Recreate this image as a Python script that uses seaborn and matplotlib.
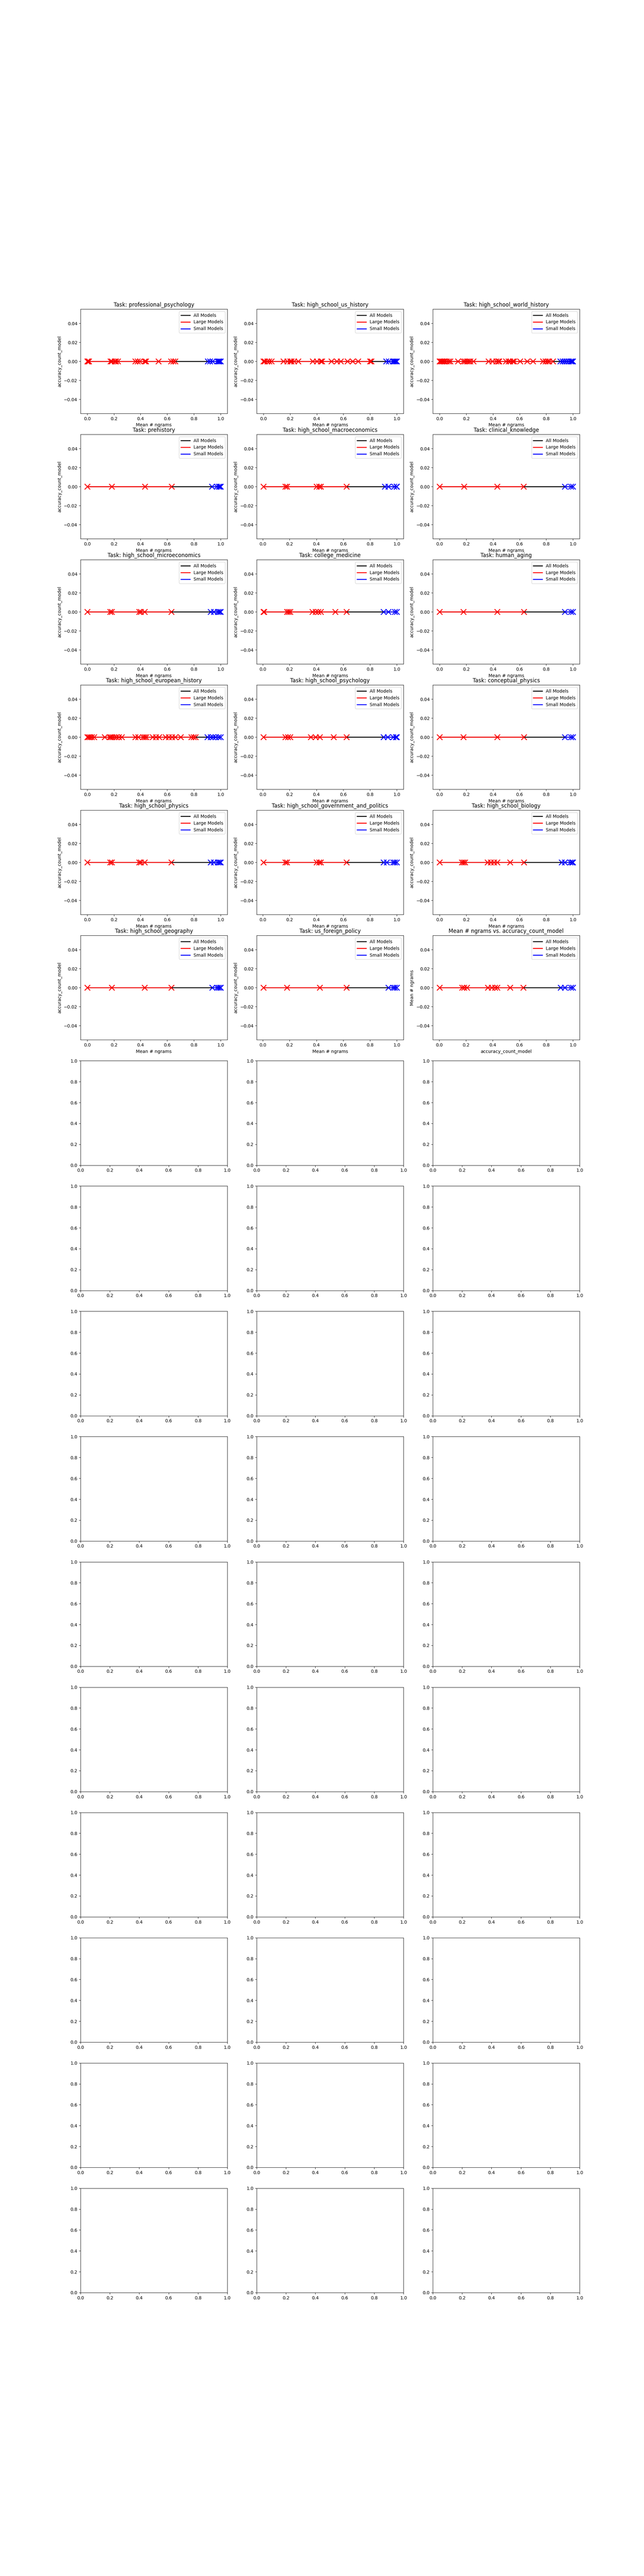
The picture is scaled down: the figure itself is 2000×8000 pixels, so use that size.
#!/usr/bin/env python3
"""
Task-wise accuracy_count_model vs. mean # ngrams (all / large / small models)
"""

import matplotlib
matplotlib.use('Agg')
import matplotlib.pyplot as plt
import seaborn as sns

# ---- data ----
titles = [
    'Task: professional_psychology', 'Task: high_school_us_history', 'Task: high_school_world_history',
    'Task: prehistory', 'Task: high_school_macroeconomics', 'Task: clinical_knowledge',
    'Task: high_school_microeconomics', 'Task: college_medicine', 'Task: human_aging',
    'Task: high_school_european_history', 'Task: high_school_psychology', 'Task: conceptual_physics',
    'Task: high_school_physics', 'Task: high_school_government_and_politics', 'Task: high_school_biology',
    'Task: high_school_geography', 'Task: us_foreign_policy', 'Mean # ngrams vs. accuracy_count_model',
]

# mean # ngrams (normalised) for the large models of each panel
large_ngrams = [
    [0.0, 0.005, 0.012, 0.175, 0.185, 0.205, 0.215, 0.23, 0.36, 0.378, 0.395, 0.43, 0.44, 0.533, 0.628, 0.645, 0.66],
    [0.0, 0.01, 0.03, 0.045, 0.06, 0.15, 0.18, 0.2, 0.21, 0.23, 0.26, 0.37, 0.4, 0.43, 0.44,
     0.51, 0.55, 0.58, 0.63, 0.67, 0.71, 0.8, 0.81],
    [0.0, 0.003, 0.012, 0.021, 0.031, 0.04, 0.054, 0.068, 0.081, 0.139, 0.179, 0.192, 0.206, 0.218,
     0.229, 0.253, 0.368, 0.396, 0.426, 0.44, 0.447, 0.498, 0.516, 0.53, 0.549, 0.558, 0.604,
     0.657, 0.699, 0.775, 0.794, 0.808, 0.821, 0.849],
    [0.0, 0.185, 0.433, 0.632],
    [0.004, 0.167, 0.179, 0.4, 0.42, 0.432, 0.624],
    [0.0, 0.184, 0.432, 0.63],
    [0.0, 0.171, 0.183, 0.388, 0.402, 0.431, 0.631],
    [0.004, 0.01, 0.179, 0.191, 0.203, 0.371, 0.395, 0.412, 0.432, 0.54, 0.624],
    [0.0, 0.18, 0.433, 0.632],
    [0.0, 0.01, 0.022, 0.034, 0.051, 0.13, 0.166, 0.178, 0.19, 0.203, 0.219, 0.238, 0.258,
     0.359, 0.383, 0.419, 0.431, 0.443, 0.491, 0.515, 0.539, 0.587, 0.611, 0.636, 0.66, 0.7,
     0.78, 0.797, 0.811],
    [0.004, 0.167, 0.186, 0.203, 0.359, 0.395, 0.426, 0.528, 0.624],
    [0.0, 0.18, 0.433, 0.632],
    [0.0, 0.171, 0.183, 0.388, 0.402, 0.431, 0.631],
    [0.004, 0.167, 0.179, 0.4, 0.42, 0.432, 0.624],
    [0.0, 0.168, 0.18, 0.192, 0.36, 0.384, 0.408, 0.432, 0.528, 0.632],
    [0.0, 0.183, 0.431, 0.631],
    [0.004, 0.179, 0.426, 0.624],
    [0.003, 0.172, 0.187, 0.209, 0.365, 0.393, 0.417, 0.433, 0.531, 0.629],
]

# mean # ngrams (normalised) for the small models of each panel
small_ngrams = [
    [0.903, 0.92, 0.94, 0.975, 0.985, 0.99, 1.0],
    [0.92, 0.94, 0.97, 0.98, 0.99, 1.0],
    [0.905, 0.923, 0.937, 0.951, 0.969, 0.983, 0.993, 1.0],
    [0.935, 0.97, 0.985, 0.995, 1.0],
    [0.91, 0.936, 0.98, 0.997, 1.0],
    [0.94, 0.985, 1.0],
    [0.924, 0.948, 0.979, 0.991, 1.0],
    [0.9, 0.937, 0.985, 1.0],
    [0.94, 0.985, 1.0],
    [0.9, 0.924, 0.941, 0.96, 0.984, 1.0],
    [0.9, 0.932, 0.973, 0.993, 1.0],
    [0.94, 0.985, 1.0],
    [0.924, 0.948, 0.979, 0.991, 1.0],
    [0.9, 0.925, 0.973, 0.985, 1.0],
    [0.914, 0.938, 0.981, 0.993, 1.0],
    [0.937, 0.972, 0.984, 0.996, 1.0],
    [0.937, 0.973, 0.985, 1.0],
    [0.908, 0.939, 0.985, 1.0],
]

# accuracy_count_model is zero for every model in every panel
accuracy_value = 0.0

n_rows, n_cols = 16, 3


def draw_panel(ax, title, large_x, small_x, xlabel, ylabel):
    """하나의 패널 그리기"""
    all_x = sorted(large_x + small_x)
    sns.lineplot(x=all_x, y=[accuracy_value] * len(all_x), ax=ax, color='black',
                 estimator=None, errorbar=None, linewidth=2, label='All Models')
    sns.lineplot(x=large_x, y=[accuracy_value] * len(large_x), ax=ax, color='red',
                 estimator=None, errorbar=None, linewidth=2, label='Large Models')
    sns.scatterplot(x=large_x, y=[accuracy_value] * len(large_x), ax=ax, color='red',
                    marker='x', s=150, linewidth=2)
    sns.lineplot(x=small_x, y=[accuracy_value] * len(small_x), ax=ax, color='blue',
                 estimator=None, errorbar=None, linewidth=2, label='Small Models')
    sns.scatterplot(x=small_x, y=[accuracy_value] * len(small_x), ax=ax, color='blue',
                    marker='x', s=150, linewidth=2)
    ax.set_title(title)
    ax.set_xlabel(xlabel)
    ax.set_ylabel(ylabel)
    ax.legend(loc='upper right')


fig, axes = plt.subplots(n_rows, n_cols, figsize=(20, 80))
flat = axes.flatten()

for i, title in enumerate(titles):
    if i == len(titles) - 1:
        draw_panel(flat[i], title, large_ngrams[i], small_ngrams[i],
                   'accuracy_count_model', 'Mean # ngrams')
    else:
        draw_panel(flat[i], title, large_ngrams[i], small_ngrams[i],
                   'Mean # ngrams', 'accuracy_count_model')

plt.savefig('out.png', dpi=100)
plt.close()
